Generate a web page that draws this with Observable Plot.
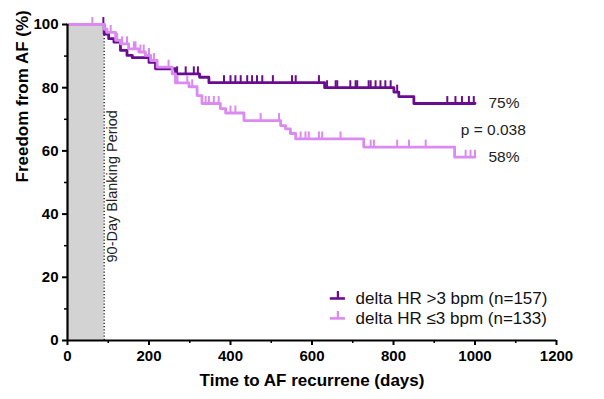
<!DOCTYPE html>
<html><head><meta charset="utf-8">
<script src="https://cdn.jsdelivr.net/npm/d3@7"></script>
<script src="https://cdn.jsdelivr.net/npm/@observablehq/plot@0.6"></script>
<style>
html,body{margin:0;padding:0;background:#fff;}
#chart svg{display:block;}
</style></head><body><div id="chart"></div>
<script>
// ---- data ----
const seriesNames = ["delta HR >3 bpm (n=157)", "delta HR \u22643 bpm (n=133)"];
const highTimes = [0, 90, 101, 114, 130, 146, 159, 200, 216, 265, 324, 347, 631, 801, 813, 850, 1000];
const highSurv  = [100, 97, 95.5, 94.4, 91.8, 90.2, 89.5, 88, 86, 84.4, 83.3, 81.6, 80, 78.6, 77.2, 75, 75];
const highCensor = [88, 269, 290, 310, 320, 384, 400, 412, 425, 441, 453, 465, 478, 504, 551, 560, 617, 637, 658, 662, 694, 707, 711, 739, 744, 756, 768, 780, 793, 809, 932, 952, 968, 985, 997];
const lowTimes = [0, 90, 97, 118, 130, 150, 175, 191, 204, 220, 257, 265, 298, 318, 330, 375, 388, 433, 523, 535, 547, 560, 727, 950, 1000];
const lowSurv  = [100, 98.5, 97.5, 95, 93.9, 92.3, 91.3, 90.2, 88.6, 86.5, 84.4, 81.5, 80.3, 77.5, 75, 73.4, 72, 69.6, 68, 67, 65.5, 63.8, 61.2, 58, 58];
const lowCensor = [61, 106, 122, 134, 146, 163, 167, 179, 187, 200, 212, 248, 270, 294, 306, 339, 347, 359, 371, 400, 412, 474, 519, 572, 584, 592, 617, 625, 670, 744, 752, 809, 838, 879, 977, 989, 1000];
const blankingDays = 90;
const blankingLabel = "90-Day Blanking Period";
const endLabels = ["75%", "58%"];
const endValues = [75, 58];
const pLabel = "p = 0.038";
const xMajor = [0, 200, 400, 600, 800, 1000, 1200];
const xMinor = [100, 300, 500, 700, 900, 1100];
const yMajor = [0, 20, 40, 60, 80, 100];
const yMinor = [10, 30, 50, 70, 90];
const xTitle = "Time to AF recurrene (days)";
const yTitle = "Freedom from AF (%)";

// ---- build ----
const colors = ["#6a0c8f", "#da8af0"];
const toPts = (T, S) => T.map((t, i) => ({t, s: S[i]}));
const stepAt = (T, S, t) => { let v = S[0]; for (let i = 0; i < T.length; i++) if (T[i] <= t) v = S[i]; return v; };
const highPts = toPts(highTimes, highSurv);
const lowPts = toPts(lowTimes, lowSurv);
const highTicks = highCensor.map(t => ({t, s: stepAt(highTimes, highSurv, t)}));
const lowTicks = lowCensor.map(t => ({t, s: stepAt(lowTimes, lowSurv, t)}));
const tickLen = 2.2; // in % units (~7px)
const font = "Liberation Sans, Arial, Helvetica, sans-serif";

// legend placement (data units)
const legX1 = 645, legX2 = 682, legXt = 707;
const legY = [13.3, 7.0];
const legend = seriesNames.map((name, i) => ({name, y: legY[i], c: colors[i]}));

const chart = Plot.plot({
  width: 604, height: 399,
  marginLeft: 67, marginRight: 48, marginTop: 24, marginBottom: 59,
  x: {domain: [0, 1200]},
  y: {domain: [0, 100]},
  style: {fontFamily: font, background: "#fff", color: "#000"},
  marks: [
    Plot.rectY([blankingDays], {x1: 0, x2: d => d, y1: 0, y2: 100, fill: "#d3d3d3"}),
    Plot.ruleX([blankingDays], {y1: 0, y2: 100, stroke: "#000", strokeWidth: 1.2, strokeDasharray: "1.2,2"}),
    Plot.text([blankingLabel], {x: blankingDays, y: 24.7, dx: 8, rotate: -90, textAnchor: "start", fontSize: 14.5, fill: "#222"}),
    // curves
    Plot.line(highPts, {x: "t", y: "s", curve: "step-after", stroke: colors[0], strokeWidth: 2.8}),
    Plot.ruleX(highTicks, {x: "t", y1: "s", y2: d => d.s + tickLen, stroke: colors[0], strokeWidth: 2}),
    Plot.line(lowPts, {x: "t", y: "s", curve: "step-after", stroke: colors[1], strokeWidth: 2.8}),
    Plot.ruleX(lowTicks, {x: "t", y1: "s", y2: d => d.s + tickLen, stroke: colors[1], strokeWidth: 2}),
    // annotations
    Plot.text(endLabels, {x: 1033, y: (d, i) => endValues[i], textAnchor: "start", fontSize: 15.5, fill: "#222"}),
    Plot.text([pLabel], {x: 965, y: 66.5, textAnchor: "start", fontSize: 15.5, fill: "#222"}),
    // legend
    Plot.ruleY(legend, {x1: legX1, x2: legX2, y: "y", stroke: "c", strokeWidth: 2.6}),
    Plot.ruleX(legend, {x: (legX1 + legX2) / 2, y1: "y", y2: d => d.y + tickLen, stroke: "c", strokeWidth: 2.2}),
    Plot.text(legend, {x: legXt, y: "y", text: "name", textAnchor: "start", fontSize: 17, fill: "#111"}),
    // axes
    Plot.axisX(xMajor, {tickSize: 5, tickPadding: 5, tickFormat: d => String(d), fontSize: 15, fontWeight: "bold", strokeWidth: 2, label: null}),
    Plot.axisX(xMinor, {tickSize: 3, tickFormat: () => "", strokeWidth: 1.5, label: null}),
    Plot.axisY(yMajor, {tickSize: 5, tickPadding: 4, tickFormat: d => String(d), fontSize: 15, fontWeight: "bold", strokeWidth: 2, label: null}),
    Plot.axisY(yMinor, {tickSize: 3, tickFormat: () => "", strokeWidth: 1.5, label: null}),
    Plot.ruleY([0], {x1: 0, x2: 1200, stroke: "#000", strokeWidth: 2.2}),
    Plot.ruleX([0], {y1: 0, y2: 100, stroke: "#000", strokeWidth: 2.2}),
    Plot.text([xTitle], {x: 600, frameAnchor: "bottom", dy: 45, fontSize: 17, fontWeight: "bold"}),
    Plot.text([yTitle], {y: 50, frameAnchor: "left", dx: -45, rotate: -90, fontSize: 17, fontWeight: "bold"})
  ]
});
document.getElementById("chart").appendChild(chart);
</script>
</body></html>
